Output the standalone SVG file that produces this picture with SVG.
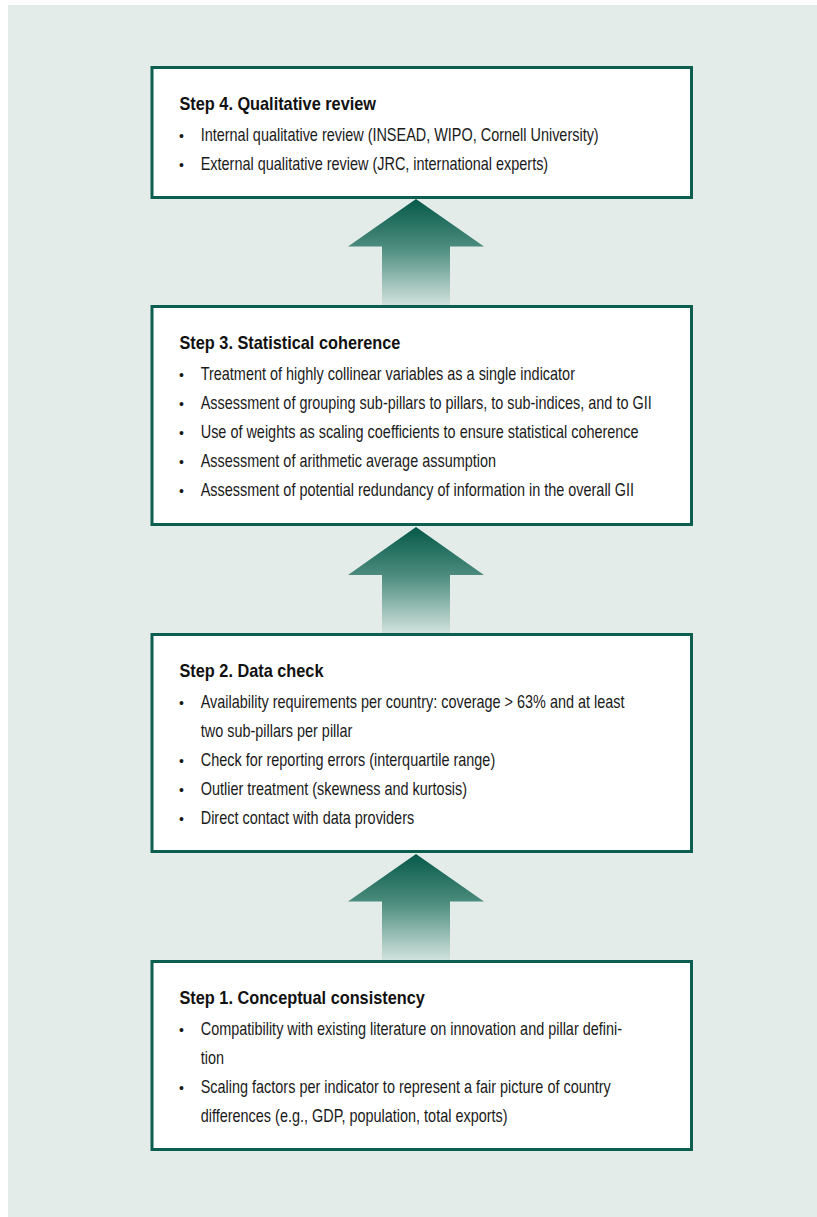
<svg xmlns="http://www.w3.org/2000/svg" width="817" height="1217" viewBox="0 0 817 1217">
<defs>
<linearGradient id="arrowGrad" x1="0" y1="0" x2="0" y2="1">
<stop offset="0" stop-color="#06594a"/>
<stop offset="0.45" stop-color="#4b8c7d"/>
<stop offset="1" stop-color="#d3e4df"/>
</linearGradient>
<style>
.box{fill:#ffffff;stroke:#0b5e50;stroke-width:3}
.arrow{fill:url(#arrowGrad)}
.t{font-family:"Liberation Sans",Arial,sans-serif;font-weight:bold;font-size:18px;fill:#111111}
.b{font-family:"Liberation Sans",Arial,sans-serif;font-size:17.5px;fill:#1a1a1a}
.bul{font-family:"Liberation Sans",Arial,sans-serif;font-size:14px;fill:#1a1a1a}
</style>
</defs>
<rect x="8" y="5" width="809" height="1212" fill="#e4ecea"/>
<g id="connectors">
<polygon class="arrow" points="416,199 484,246.5 450,246.5 450,306 382,306 382,246.5 348,246.5"/>
<polygon class="arrow" points="416,527 484,575 450,575 450,634 382,634 382,575 348,575"/>
<polygon class="arrow" points="416,854 484,901.5 450,901.5 450,961 382,961 382,901.5 348,901.5"/>
</g>
<g id="step4">
<rect class="box" x="152" y="67.5" width="539.5" height="130"/>
<text class="t" transform="translate(179.5 110) scale(0.906 1)">Step 4. Qualitative review</text>
<text class="bul" x="179" y="141">•</text>
<text class="b" transform="translate(200.7 141) scale(0.826 1)">Internal qualitative review (INSEAD, WIPO, Cornell University)</text>
<text class="bul" x="179" y="170">•</text>
<text class="b" transform="translate(200.7 170) scale(0.826 1)">External qualitative review (JRC, international experts)</text>
</g>
<g id="step3">
<rect class="box" x="152" y="306.5" width="539.5" height="218"/>
<text class="t" transform="translate(179.5 349) scale(0.906 1)">Step 3. Statistical coherence</text>
<text class="bul" x="179" y="380">•</text>
<text class="b" transform="translate(200.7 380) scale(0.826 1)">Treatment of highly collinear variables as a single indicator</text>
<text class="bul" x="179" y="409">•</text>
<text class="b" transform="translate(200.7 409) scale(0.826 1)">Assessment of grouping sub-pillars to pillars, to sub-indices, and to GII</text>
<text class="bul" x="179" y="438">•</text>
<text class="b" transform="translate(200.7 438) scale(0.826 1)">Use of weights as scaling coefficients to ensure statistical coherence</text>
<text class="bul" x="179" y="467">•</text>
<text class="b" transform="translate(200.7 467) scale(0.826 1)">Assessment of arithmetic average assumption</text>
<text class="bul" x="179" y="496">•</text>
<text class="b" transform="translate(200.7 496) scale(0.826 1)">Assessment of potential redundancy of information in the overall GII</text>
</g>
<g id="step2">
<rect class="box" x="152" y="634.5" width="539.5" height="217"/>
<text class="t" transform="translate(179.5 677) scale(0.906 1)">Step 2. Data check</text>
<text class="bul" x="179" y="708">•</text>
<text class="b" transform="translate(200.7 708) scale(0.826 1)">Availability requirements per country: coverage &gt; 63% and at least</text>
<text class="b" transform="translate(200.7 737) scale(0.826 1)">two sub-pillars per pillar</text>
<text class="bul" x="179" y="766">•</text>
<text class="b" transform="translate(200.7 766) scale(0.826 1)">Check for reporting errors (interquartile range)</text>
<text class="bul" x="179" y="795">•</text>
<text class="b" transform="translate(200.7 795) scale(0.826 1)">Outlier treatment (skewness and kurtosis)</text>
<text class="bul" x="179" y="824">•</text>
<text class="b" transform="translate(200.7 824) scale(0.826 1)">Direct contact with data providers</text>
</g>
<g id="step1">
<rect class="box" x="152" y="961.5" width="539.5" height="188"/>
<text class="t" transform="translate(179.5 1004) scale(0.906 1)">Step 1. Conceptual consistency</text>
<text class="bul" x="179" y="1035">•</text>
<text class="b" transform="translate(200.7 1035) scale(0.826 1)">Compatibility with existing literature on innovation and pillar defini-</text>
<text class="b" transform="translate(200.7 1064) scale(0.826 1)">tion</text>
<text class="bul" x="179" y="1093">•</text>
<text class="b" transform="translate(200.7 1093) scale(0.826 1)">Scaling factors per indicator to represent a fair picture of country</text>
<text class="b" transform="translate(200.7 1122) scale(0.826 1)">differences (e.g., GDP, population, total exports)</text>
</g>
</svg>
